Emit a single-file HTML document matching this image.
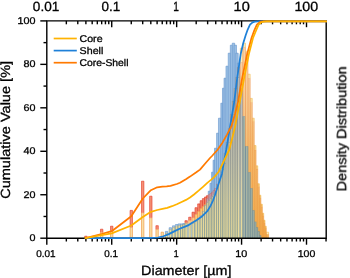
<!DOCTYPE html>
<html><head><meta charset="utf-8"><title>Particle size distribution</title>
<style>
html,body{margin:0;padding:0;background:#fff;}
body{width:350px;height:278px;overflow:hidden;position:relative;}
svg text{font-family:"Liberation Sans",sans-serif;fill:#000;stroke:#000;stroke-width:0.3px;text-rendering:geometricPrecision;}
</style></head><body>
<svg width="350" height="278" viewBox="0 0 350 278" style="position:absolute;left:0;top:0">
<rect width="350" height="278" fill="#fff"/>
<defs><linearGradient id="gf" gradientUnits="userSpaceOnUse" x1="0" y1="238" x2="0" y2="70"><stop offset="0" stop-color="#ECDC98"/><stop offset="0.2" stop-color="#E2D6A0"/><stop offset="0.45" stop-color="#CCCAB0"/><stop offset="0.7" stop-color="#BCC0BC"/><stop offset="1" stop-color="#B0BAC2"/></linearGradient><linearGradient id="gs" gradientUnits="userSpaceOnUse" x1="0" y1="238" x2="0" y2="70"><stop offset="0" stop-color="#6A8A94"/><stop offset="0.25" stop-color="#70868C"/><stop offset="0.5" stop-color="#767C7E"/><stop offset="1" stop-color="#7A6E6A"/></linearGradient><linearGradient id="gc" gradientUnits="userSpaceOnUse" x1="0" y1="238" x2="0" y2="45"><stop offset="0" stop-color="#F3B250"/><stop offset="0.45" stop-color="#F5BE70"/><stop offset="0.75" stop-color="#F8CE98"/><stop offset="1" stop-color="#F9D6AA"/></linearGradient><linearGradient id="gcs" gradientUnits="userSpaceOnUse" x1="0" y1="238" x2="0" y2="45"><stop offset="0" stop-color="#EC9038"/><stop offset="1" stop-color="#EE9A60"/></linearGradient></defs>
<g><rect x="84.69" y="236.70" width="2.40" height="1.50" fill="#FAD490"/><path d="M84.69,238.20 V236.70 H87.09 V238.20" fill="none" stroke="#F08A30" stroke-width="0.6"/><rect x="84.69" y="236.20" width="2.40" height="0.50" fill="#F38C6F"/><path d="M84.69,236.70 V236.20 H87.09 V236.70" fill="none" stroke="#E03324" stroke-width="0.6"/><rect x="100.47" y="232.20" width="2.40" height="6.00" fill="#FADEA5"/><path d="M100.47,238.20 V232.20 H102.87 V238.20" fill="none" stroke="#EF8E38" stroke-width="0.6"/><rect x="100.47" y="229.20" width="2.40" height="3.00" fill="#F49276"/><path d="M100.47,232.20 V229.20 H102.87 V232.20" fill="none" stroke="#E23424" stroke-width="0.6"/><rect x="110.52" y="230.50" width="2.40" height="7.70" fill="#FADEA5"/><path d="M110.52,238.20 V230.50 H112.92 V238.20" fill="none" stroke="#EF8E38" stroke-width="0.6"/><rect x="110.52" y="226.20" width="2.40" height="4.30" fill="#F49276"/><path d="M110.52,230.50 V226.20 H112.92 V230.50" fill="none" stroke="#E23424" stroke-width="0.6"/><rect x="130.07" y="227.20" width="2.40" height="11.00" fill="#FADEA5"/><path d="M130.07,238.20 V227.20 H132.47 V238.20" fill="none" stroke="#EF8E38" stroke-width="0.6"/><rect x="130.07" y="210.40" width="2.40" height="16.80" fill="#F49276"/><path d="M130.07,227.20 V210.40 H132.47 V227.20" fill="none" stroke="#E23424" stroke-width="0.6"/><rect x="141.50" y="212.70" width="2.40" height="25.50" fill="#FADEA5"/><path d="M141.50,238.20 V212.70 H143.90 V238.20" fill="none" stroke="#EF8E38" stroke-width="0.6"/><rect x="141.50" y="181.20" width="2.40" height="31.50" fill="#F49276"/><path d="M141.50,212.70 V181.20 H143.90 V212.70" fill="none" stroke="#E23424" stroke-width="0.6"/><rect x="149.61" y="217.70" width="2.40" height="20.50" fill="#FADEA5"/><path d="M149.61,238.20 V217.70 H152.01 V238.20" fill="none" stroke="#EF8E38" stroke-width="0.6"/><rect x="149.61" y="196.20" width="2.40" height="21.50" fill="#F49276"/><path d="M149.61,217.70 V196.20 H152.01 V217.70" fill="none" stroke="#E23424" stroke-width="0.6"/><rect x="155.91" y="229.20" width="2.40" height="9.00" fill="#FADEA5"/><path d="M155.91,238.20 V229.20 H158.31 V238.20" fill="none" stroke="#EF8E38" stroke-width="0.6"/><rect x="155.91" y="225.70" width="2.40" height="3.50" fill="#F49276"/><path d="M155.91,229.20 V225.70 H158.31 V229.20" fill="none" stroke="#E23424" stroke-width="0.6"/><rect x="161.05" y="232.20" width="2.40" height="6.00" fill="#FADEA5"/><path d="M161.05,238.20 V232.20 H163.45 V238.20" fill="none" stroke="#EF8E38" stroke-width="0.6"/><rect x="165.39" y="233.20" width="2.40" height="5.00" fill="url(#gf)"/><path d="M165.39,238.20 V233.20 H167.79 V238.20" fill="none" stroke="url(#gs)" stroke-width="0.6"/><rect x="165.39" y="232.70" width="2.40" height="0.50" fill="url(#gf)"/><path d="M165.39,233.20 V232.70 H167.79 V233.20" fill="none" stroke="url(#gs)" stroke-width="0.6"/><rect x="165.39" y="231.40" width="2.40" height="1.30" fill="#A8C8E8"/><path d="M165.39,232.70 V231.40 H167.79 V232.70" fill="none" stroke="#6496CC" stroke-width="0.6"/><rect x="169.16" y="229.20" width="2.40" height="9.00" fill="url(#gf)"/><path d="M169.16,238.20 V229.20 H171.56 V238.20" fill="none" stroke="url(#gs)" stroke-width="0.6"/><rect x="169.16" y="227.70" width="2.40" height="1.50" fill="#A8C8E8"/><path d="M169.16,229.20 V227.70 H171.56 V229.20" fill="none" stroke="#6496CC" stroke-width="0.6"/><rect x="172.48" y="227.20" width="2.40" height="11.00" fill="url(#gf)"/><path d="M172.48,238.20 V227.20 H174.88 V238.20" fill="none" stroke="url(#gs)" stroke-width="0.6"/><rect x="172.48" y="225.80" width="2.40" height="1.40" fill="#A8C8E8"/><path d="M172.48,227.20 V225.80 H174.88 V227.20" fill="none" stroke="#6496CC" stroke-width="0.6"/><rect x="175.45" y="225.70" width="2.40" height="12.50" fill="url(#gf)"/><path d="M175.45,238.20 V225.70 H177.85 V238.20" fill="none" stroke="url(#gs)" stroke-width="0.6"/><rect x="175.45" y="224.50" width="2.40" height="1.20" fill="#A8C8E8"/><path d="M175.45,225.70 V224.50 H177.85 V225.70" fill="none" stroke="#6496CC" stroke-width="0.6"/><rect x="178.14" y="225.20" width="2.40" height="13.00" fill="url(#gf)"/><path d="M178.14,238.20 V225.20 H180.54 V238.20" fill="none" stroke="url(#gs)" stroke-width="0.6"/><rect x="178.14" y="223.90" width="2.40" height="1.30" fill="#A5C6E7"/><path d="M178.14,225.20 V223.90 H180.54 V225.20" fill="none" stroke="#6496CC" stroke-width="0.6"/><rect x="180.59" y="224.70" width="2.40" height="13.50" fill="url(#gf)"/><path d="M180.59,238.20 V224.70 H182.99 V238.20" fill="none" stroke="url(#gs)" stroke-width="0.6"/><rect x="180.59" y="223.90" width="2.40" height="0.80" fill="#A3C4E6"/><path d="M180.59,224.70 V223.90 H182.99 V224.70" fill="none" stroke="#6496CC" stroke-width="0.6"/><rect x="182.85" y="224.20" width="2.40" height="14.00" fill="url(#gf)"/><path d="M182.85,238.20 V224.20 H185.25 V238.20" fill="none" stroke="url(#gs)" stroke-width="0.6"/><rect x="182.85" y="223.60" width="2.40" height="0.60" fill="#A1C3E5"/><path d="M182.85,224.20 V223.60 H185.25 V224.20" fill="none" stroke="#6496CC" stroke-width="0.6"/><rect x="184.94" y="223.40" width="2.40" height="14.80" fill="url(#gf)"/><path d="M184.94,238.20 V223.40 H187.34 V238.20" fill="none" stroke="url(#gs)" stroke-width="0.6"/><rect x="184.94" y="222.70" width="2.40" height="0.70" fill="#F9CC7F"/><path d="M184.94,223.40 V222.70 H187.34 V223.40" fill="none" stroke="#F0872A" stroke-width="0.6"/><rect x="184.94" y="220.70" width="2.40" height="2.00" fill="#F3876A"/><path d="M184.94,222.70 V220.70 H187.34 V222.70" fill="none" stroke="#DE3224" stroke-width="0.6"/><rect x="188.70" y="223.70" width="2.40" height="14.50" fill="url(#gf)"/><path d="M188.70,238.20 V223.70 H191.10 V238.20" fill="none" stroke="url(#gs)" stroke-width="0.6"/><rect x="188.70" y="220.20" width="2.40" height="3.50" fill="#FAD897"/><path d="M188.70,223.70 V220.20 H191.10 V223.70" fill="none" stroke="#EF8B33" stroke-width="0.6"/><rect x="188.70" y="217.20" width="2.40" height="3.00" fill="#F48E72"/><path d="M188.70,220.20 V217.20 H191.10 V220.20" fill="none" stroke="#E13324" stroke-width="0.6"/><rect x="192.02" y="223.20" width="2.40" height="15.00" fill="url(#gf)"/><path d="M192.02,238.20 V223.20 H194.42 V238.20" fill="none" stroke="url(#gs)" stroke-width="0.6"/><rect x="192.02" y="217.60" width="2.40" height="5.60" fill="#FAD48F"/><path d="M192.02,223.20 V217.60 H194.42 V223.20" fill="none" stroke="#F08A30" stroke-width="0.6"/><rect x="192.02" y="212.20" width="2.40" height="5.40" fill="#F38C6F"/><path d="M192.02,217.60 V212.20 H194.42 V217.60" fill="none" stroke="#E03324" stroke-width="0.6"/><rect x="194.99" y="221.20" width="2.40" height="17.00" fill="url(#gf)"/><path d="M194.99,238.20 V221.20 H197.39 V238.20" fill="none" stroke="url(#gs)" stroke-width="0.6"/><rect x="194.99" y="214.20" width="2.40" height="7.00" fill="#F9D189"/><path d="M194.99,221.20 V214.20 H197.39 V221.20" fill="none" stroke="#F0892D" stroke-width="0.6"/><rect x="194.99" y="207.70" width="2.40" height="6.50" fill="#F38A6D"/><path d="M194.99,214.20 V207.70 H197.39 V214.20" fill="none" stroke="#DF3224" stroke-width="0.6"/><rect x="197.68" y="218.20" width="2.40" height="20.00" fill="url(#gf)"/><path d="M197.68,238.20 V218.20 H200.08 V238.20" fill="none" stroke="url(#gs)" stroke-width="0.6"/><rect x="197.68" y="211.20" width="2.40" height="7.00" fill="#F9CE83"/><path d="M197.68,218.20 V211.20 H200.08 V218.20" fill="none" stroke="#F0882B" stroke-width="0.6"/><rect x="197.68" y="203.90" width="2.40" height="7.30" fill="#F3886B"/><path d="M197.68,211.20 V203.90 H200.08 V211.20" fill="none" stroke="#DE3224" stroke-width="0.6"/><rect x="200.14" y="215.20" width="2.40" height="23.00" fill="url(#gf)"/><path d="M200.14,238.20 V215.20 H202.54 V238.20" fill="none" stroke="url(#gs)" stroke-width="0.6"/><rect x="200.14" y="208.20" width="2.40" height="7.00" fill="#F9CC7F"/><path d="M200.14,215.20 V208.20 H202.54 V215.20" fill="none" stroke="#F0872A" stroke-width="0.6"/><rect x="200.14" y="200.70" width="2.40" height="7.50" fill="#F3876A"/><path d="M200.14,208.20 V200.70 H202.54 V208.20" fill="none" stroke="#DE3224" stroke-width="0.6"/><rect x="202.39" y="211.20" width="2.40" height="27.00" fill="url(#gf)"/><path d="M202.39,238.20 V211.20 H204.79 V238.20" fill="none" stroke="url(#gs)" stroke-width="0.6"/><rect x="202.39" y="206.20" width="2.40" height="5.00" fill="#F9CC7F"/><path d="M202.39,211.20 V206.20 H204.79 V211.20" fill="none" stroke="#F0872A" stroke-width="0.6"/><rect x="202.39" y="198.60" width="2.40" height="7.60" fill="#F3876A"/><path d="M202.39,206.20 V198.60 H204.79 V206.20" fill="none" stroke="#DE3224" stroke-width="0.6"/><rect x="204.48" y="205.20" width="2.40" height="33.00" fill="url(#gf)"/><path d="M204.48,238.20 V205.20 H206.88 V238.20" fill="none" stroke="url(#gs)" stroke-width="0.6"/><rect x="204.48" y="204.20" width="2.40" height="1.00" fill="#F9CC7F"/><path d="M204.48,205.20 V204.20 H206.88 V205.20" fill="none" stroke="#F0872A" stroke-width="0.6"/><rect x="204.48" y="197.00" width="2.40" height="7.20" fill="#F3876A"/><path d="M204.48,204.20 V197.00 H206.88 V204.20" fill="none" stroke="#DE3224" stroke-width="0.6"/><rect x="206.43" y="202.20" width="2.40" height="36.00" fill="url(#gf)"/><path d="M206.43,238.20 V202.20 H208.83 V238.20" fill="none" stroke="url(#gs)" stroke-width="0.6"/><rect x="206.43" y="198.20" width="2.40" height="4.00" fill="#CCA8B6"/><path d="M206.43,202.20 V198.20 H208.83 V202.20" fill="none" stroke="#A66068" stroke-width="0.6"/><rect x="206.43" y="195.70" width="2.40" height="2.50" fill="#F3876A"/><path d="M206.43,198.20 V195.70 H208.83 V198.20" fill="none" stroke="#DE3224" stroke-width="0.6"/><rect x="208.25" y="200.20" width="2.40" height="38.00" fill="url(#gf)"/><path d="M208.25,238.20 V200.20 H210.65 V238.20" fill="none" stroke="url(#gs)" stroke-width="0.6"/><rect x="208.25" y="194.20" width="2.40" height="6.00" fill="#CCA8B6"/><path d="M208.25,200.20 V194.20 H210.65 V200.20" fill="none" stroke="#A66068" stroke-width="0.6"/><rect x="208.25" y="191.20" width="2.40" height="3.00" fill="#9CC0E4"/><path d="M208.25,194.20 V191.20 H210.65 V194.20" fill="none" stroke="#6496CC" stroke-width="0.6"/><rect x="209.96" y="198.20" width="2.40" height="40.00" fill="url(#gf)"/><path d="M209.96,238.20 V198.20 H212.36 V238.20" fill="none" stroke="url(#gs)" stroke-width="0.6"/><rect x="209.96" y="193.20" width="2.40" height="5.00" fill="#CCA8B6"/><path d="M209.96,198.20 V193.20 H212.36 V198.20" fill="none" stroke="#A66068" stroke-width="0.6"/><rect x="209.96" y="183.20" width="2.40" height="10.00" fill="#9BBFE3"/><path d="M209.96,193.20 V183.20 H212.36 V193.20" fill="none" stroke="#6496CC" stroke-width="0.6"/><rect x="211.57" y="196.20" width="2.40" height="42.00" fill="url(#gf)"/><path d="M211.57,238.20 V196.20 H213.97 V238.20" fill="none" stroke="url(#gs)" stroke-width="0.6"/><rect x="211.57" y="191.70" width="2.40" height="4.50" fill="#CCA8B6"/><path d="M211.57,196.20 V191.70 H213.97 V196.20" fill="none" stroke="#A66068" stroke-width="0.6"/><rect x="211.57" y="172.20" width="2.40" height="19.50" fill="#9ABEE3"/><path d="M211.57,191.70 V172.20 H213.97 V191.70" fill="none" stroke="#6496CC" stroke-width="0.6"/><rect x="213.09" y="194.20" width="2.40" height="44.00" fill="url(#gf)"/><path d="M213.09,238.20 V194.20 H215.49 V238.20" fill="none" stroke="url(#gs)" stroke-width="0.6"/><rect x="213.09" y="190.20" width="2.40" height="4.00" fill="#CCA8B6"/><path d="M213.09,194.20 V190.20 H215.49 V194.20" fill="none" stroke="#A66068" stroke-width="0.6"/><rect x="213.09" y="160.20" width="2.40" height="30.00" fill="#9ABEE3"/><path d="M213.09,190.20 V160.20 H215.49 V190.20" fill="none" stroke="#6496CC" stroke-width="0.6"/><rect x="214.54" y="191.20" width="2.40" height="47.00" fill="url(#gf)"/><path d="M214.54,238.20 V191.20 H216.94 V238.20" fill="none" stroke="url(#gs)" stroke-width="0.6"/><rect x="214.54" y="188.20" width="2.40" height="3.00" fill="#CCA8B6"/><path d="M214.54,191.20 V188.20 H216.94 V191.20" fill="none" stroke="#A66068" stroke-width="0.6"/><rect x="214.54" y="148.20" width="2.40" height="40.00" fill="#9ABEE3"/><path d="M214.54,188.20 V148.20 H216.94 V188.20" fill="none" stroke="#6496CC" stroke-width="0.6"/><rect x="216.58" y="185.20" width="2.40" height="53.00" fill="url(#gf)"/><path d="M216.58,238.20 V185.20 H218.98 V238.20" fill="none" stroke="url(#gs)" stroke-width="0.6"/><rect x="216.58" y="184.20" width="2.40" height="1.00" fill="#CCA8B6"/><path d="M216.58,185.20 V184.20 H218.98 V185.20" fill="none" stroke="#A66068" stroke-width="0.6"/><rect x="216.58" y="133.20" width="2.40" height="51.00" fill="#9FC1E5"/><path d="M216.58,184.20 V133.20 H218.98 V184.20" fill="none" stroke="#6496CC" stroke-width="0.6"/><rect x="218.48" y="180.20" width="2.40" height="58.00" fill="url(#gf)"/><path d="M218.48,238.20 V180.20 H220.88 V238.20" fill="none" stroke="url(#gs)" stroke-width="0.6"/><rect x="218.48" y="178.20" width="2.40" height="2.00" fill="url(#gf)"/><path d="M218.48,180.20 V178.20 H220.88 V180.20" fill="none" stroke="url(#gs)" stroke-width="0.6"/><rect x="218.48" y="118.20" width="2.40" height="60.00" fill="#9FC1E5"/><path d="M218.48,178.20 V118.20 H220.88 V178.20" fill="none" stroke="#6496CC" stroke-width="0.6"/><rect x="220.83" y="174.20" width="2.40" height="64.00" fill="url(#gf)"/><path d="M220.83,238.20 V174.20 H223.23 V238.20" fill="none" stroke="url(#gs)" stroke-width="0.6"/><rect x="220.83" y="168.20" width="2.40" height="6.00" fill="url(#gf)"/><path d="M220.83,174.20 V168.20 H223.23 V174.20" fill="none" stroke="url(#gs)" stroke-width="0.6"/><rect x="220.83" y="103.20" width="2.40" height="65.00" fill="#9CBFE4"/><path d="M220.83,168.20 V103.20 H223.23 V168.20" fill="none" stroke="#6496CC" stroke-width="0.6"/><rect x="222.47" y="169.20" width="2.40" height="69.00" fill="url(#gf)"/><path d="M222.47,238.20 V169.20 H224.87 V238.20" fill="none" stroke="url(#gs)" stroke-width="0.6"/><rect x="222.47" y="161.20" width="2.40" height="8.00" fill="url(#gf)"/><path d="M222.47,169.20 V161.20 H224.87 V169.20" fill="none" stroke="url(#gs)" stroke-width="0.6"/><rect x="222.47" y="88.20" width="2.40" height="73.00" fill="#9BBEE3"/><path d="M222.47,161.20 V88.20 H224.87 V161.20" fill="none" stroke="#6496CC" stroke-width="0.6"/><rect x="224.03" y="163.20" width="2.40" height="75.00" fill="url(#gf)"/><path d="M224.03,238.20 V163.20 H226.43 V238.20" fill="none" stroke="url(#gs)" stroke-width="0.6"/><rect x="224.03" y="153.20" width="2.40" height="10.00" fill="url(#gf)"/><path d="M224.03,163.20 V153.20 H226.43 V163.20" fill="none" stroke="url(#gs)" stroke-width="0.6"/><rect x="224.03" y="78.20" width="2.40" height="75.00" fill="#9BBEE3"/><path d="M224.03,153.20 V78.20 H226.43 V153.20" fill="none" stroke="#6496CC" stroke-width="0.6"/><rect x="225.97" y="154.20" width="2.40" height="84.00" fill="url(#gf)"/><path d="M225.97,238.20 V154.20 H228.37 V238.20" fill="none" stroke="url(#gs)" stroke-width="0.6"/><rect x="225.97" y="142.20" width="2.40" height="12.00" fill="url(#gf)"/><path d="M225.97,154.20 V142.20 H228.37 V154.20" fill="none" stroke="url(#gs)" stroke-width="0.6"/><rect x="225.97" y="66.20" width="2.40" height="76.00" fill="#9FC2E5"/><path d="M225.97,142.20 V66.20 H228.37 V142.20" fill="none" stroke="#6496CC" stroke-width="0.6"/><rect x="228.23" y="142.20" width="2.40" height="96.00" fill="url(#gf)"/><path d="M228.23,238.20 V142.20 H230.63 V238.20" fill="none" stroke="url(#gs)" stroke-width="0.6"/><rect x="228.23" y="128.20" width="2.40" height="14.00" fill="url(#gf)"/><path d="M228.23,142.20 V128.20 H230.63 V142.20" fill="none" stroke="url(#gs)" stroke-width="0.6"/><rect x="228.23" y="53.20" width="2.40" height="75.00" fill="#A1C3E5"/><path d="M228.23,128.20 V53.20 H230.63 V128.20" fill="none" stroke="#6496CC" stroke-width="0.6"/><rect x="230.32" y="128.20" width="2.40" height="110.00" fill="url(#gf)"/><path d="M230.32,238.20 V128.20 H232.72 V238.20" fill="none" stroke="url(#gs)" stroke-width="0.6"/><rect x="230.32" y="114.20" width="2.40" height="14.00" fill="url(#gf)"/><path d="M230.32,128.20 V114.20 H232.72 V128.20" fill="none" stroke="url(#gs)" stroke-width="0.6"/><rect x="230.32" y="45.20" width="2.40" height="69.00" fill="#9FC2E5"/><path d="M230.32,114.20 V45.20 H232.72 V114.20" fill="none" stroke="#6496CC" stroke-width="0.6"/><rect x="232.26" y="114.20" width="2.40" height="124.00" fill="url(#gf)"/><path d="M232.26,238.20 V114.20 H234.66 V238.20" fill="none" stroke="url(#gs)" stroke-width="0.6"/><rect x="232.26" y="101.20" width="2.40" height="13.00" fill="url(#gf)"/><path d="M232.26,114.20 V101.20 H234.66 V114.20" fill="none" stroke="url(#gs)" stroke-width="0.6"/><rect x="232.26" y="43.20" width="2.40" height="58.00" fill="#9EC1E4"/><path d="M232.26,101.20 V43.20 H234.66 V101.20" fill="none" stroke="#6496CC" stroke-width="0.6"/><rect x="234.08" y="100.20" width="2.40" height="138.00" fill="url(#gf)"/><path d="M234.08,238.20 V100.20 H236.48 V238.20" fill="none" stroke="url(#gs)" stroke-width="0.6"/><rect x="234.08" y="88.20" width="2.40" height="12.00" fill="url(#gf)"/><path d="M234.08,100.20 V88.20 H236.48 V100.20" fill="none" stroke="url(#gs)" stroke-width="0.6"/><rect x="234.08" y="45.20" width="2.40" height="43.00" fill="#9CC0E4"/><path d="M234.08,88.20 V45.20 H236.48 V88.20" fill="none" stroke="#6496CC" stroke-width="0.6"/><rect x="235.79" y="88.20" width="2.40" height="150.00" fill="url(#gf)"/><path d="M235.79,238.20 V88.20 H238.19 V238.20" fill="none" stroke="url(#gs)" stroke-width="0.6"/><rect x="235.79" y="77.20" width="2.40" height="11.00" fill="url(#gf)"/><path d="M235.79,88.20 V77.20 H238.19 V88.20" fill="none" stroke="url(#gs)" stroke-width="0.6"/><rect x="235.79" y="53.20" width="2.40" height="24.00" fill="#9BBFE3"/><path d="M235.79,77.20 V53.20 H238.19 V77.20" fill="none" stroke="#6496CC" stroke-width="0.6"/><rect x="237.40" y="77.20" width="2.40" height="161.00" fill="url(#gf)"/><path d="M237.40,238.20 V77.20 H239.80 V238.20" fill="none" stroke="url(#gs)" stroke-width="0.6"/><rect x="237.40" y="67.20" width="2.40" height="10.00" fill="url(#gf)"/><path d="M237.40,77.20 V67.20 H239.80 V77.20" fill="none" stroke="url(#gs)" stroke-width="0.6"/><rect x="237.40" y="63.20" width="2.40" height="4.00" fill="#9BBFE3"/><path d="M237.40,67.20 V63.20 H239.80 V67.20" fill="none" stroke="#6496CC" stroke-width="0.6"/><rect x="240.38" y="88.20" width="2.40" height="150.00" fill="url(#gf)"/><path d="M240.38,238.20 V88.20 H242.77 V238.20" fill="none" stroke="url(#gs)" stroke-width="0.6"/><rect x="240.38" y="62.20" width="2.40" height="26.00" fill="url(#gc)"/><path d="M240.38,88.20 V62.20 H242.77 V88.20" fill="none" stroke="url(#gcs)" stroke-width="0.6"/><rect x="240.38" y="48.20" width="2.40" height="14.00" fill="#FCEEBE"/><path d="M240.38,62.20 V48.20 H242.77 V62.20" fill="none" stroke="#F2BE5A" stroke-width="0.6"/><rect x="243.06" y="116.20" width="2.40" height="122.00" fill="#A9B5A5"/><path d="M243.06,238.20 V116.20 H245.46 V238.20" fill="none" stroke="#607F90" stroke-width="0.6"/><rect x="243.06" y="47.20" width="2.40" height="69.00" fill="url(#gc)"/><path d="M243.06,116.20 V47.20 H245.46 V116.20" fill="none" stroke="url(#gcs)" stroke-width="0.6"/><rect x="243.06" y="43.20" width="2.40" height="4.00" fill="#FCEEBE"/><path d="M243.06,47.20 V43.20 H245.46 V47.20" fill="none" stroke="#F2BE5A" stroke-width="0.6"/><rect x="266.21" y="234.20" width="2.40" height="4.00" fill="url(#gc)"/><path d="M266.21,238.20 V234.20 H268.61 V238.20" fill="none" stroke="url(#gcs)" stroke-width="0.6"/><rect x="266.21" y="232.20" width="2.40" height="2.00" fill="#FCEEBE"/><path d="M266.21,234.20 V232.20 H268.61 V234.20" fill="none" stroke="#F2BE5A" stroke-width="0.6"/><rect x="263.86" y="228.20" width="2.40" height="10.00" fill="url(#gc)"/><path d="M263.86,238.20 V228.20 H266.26 V238.20" fill="none" stroke="url(#gcs)" stroke-width="0.6"/><rect x="263.86" y="226.20" width="2.40" height="2.00" fill="#F5BE5F"/><path d="M263.86,228.20 V226.20 H266.26 V228.20" fill="none" stroke="#F2BE5A" stroke-width="0.6"/><rect x="262.61" y="222.70" width="2.40" height="15.50" fill="url(#gc)"/><path d="M262.61,238.20 V222.70 H265.01 V238.20" fill="none" stroke="url(#gcs)" stroke-width="0.6"/><rect x="262.61" y="220.20" width="2.40" height="2.50" fill="#F5BE5F"/><path d="M262.61,222.70 V220.20 H265.01 V222.70" fill="none" stroke="#F2BE5A" stroke-width="0.6"/><rect x="261.30" y="215.70" width="2.40" height="22.50" fill="url(#gc)"/><path d="M261.30,238.20 V215.70 H263.70 V238.20" fill="none" stroke="url(#gcs)" stroke-width="0.6"/><rect x="261.30" y="213.20" width="2.40" height="2.50" fill="#F5BE5F"/><path d="M261.30,215.70 V213.20 H263.70 V215.70" fill="none" stroke="#F2BE5A" stroke-width="0.6"/><rect x="259.92" y="206.70" width="2.40" height="31.50" fill="url(#gc)"/><path d="M259.92,238.20 V206.70 H262.32 V238.20" fill="none" stroke="url(#gcs)" stroke-width="0.6"/><rect x="259.92" y="204.20" width="2.40" height="2.50" fill="#F5BE5F"/><path d="M259.92,206.70 V204.20 H262.32 V206.70" fill="none" stroke="#F2BE5A" stroke-width="0.6"/><rect x="258.47" y="235.20" width="2.40" height="3.00" fill="#A3B1A6"/><path d="M258.47,238.20 V235.20 H260.87 V238.20" fill="none" stroke="#5E7D8F" stroke-width="0.6"/><rect x="258.47" y="197.70" width="2.40" height="37.50" fill="url(#gc)"/><path d="M258.47,235.20 V197.70 H260.87 V235.20" fill="none" stroke="url(#gcs)" stroke-width="0.6"/><rect x="258.47" y="195.20" width="2.40" height="2.50" fill="#F5C165"/><path d="M258.47,197.70 V195.20 H260.87 V197.70" fill="none" stroke="#F2BE5A" stroke-width="0.6"/><rect x="256.95" y="231.20" width="2.40" height="7.00" fill="#A9B5A5"/><path d="M256.95,238.20 V231.20 H259.35 V238.20" fill="none" stroke="#607F90" stroke-width="0.6"/><rect x="256.95" y="186.60" width="2.40" height="44.60" fill="url(#gc)"/><path d="M256.95,231.20 V186.60 H259.35 V231.20" fill="none" stroke="url(#gcs)" stroke-width="0.6"/><rect x="256.95" y="183.70" width="2.40" height="2.90" fill="#F6C770"/><path d="M256.95,186.60 V183.70 H259.35 V186.60" fill="none" stroke="#F2BE5A" stroke-width="0.6"/><rect x="255.34" y="227.20" width="2.40" height="11.00" fill="#A9B5A5"/><path d="M255.34,238.20 V227.20 H257.74 V238.20" fill="none" stroke="#607F90" stroke-width="0.6"/><rect x="255.34" y="168.90" width="2.40" height="58.30" fill="url(#gc)"/><path d="M255.34,227.20 V168.90 H257.74 V227.20" fill="none" stroke="url(#gcs)" stroke-width="0.6"/><rect x="255.34" y="165.80" width="2.40" height="3.10" fill="#F7CD7C"/><path d="M255.34,168.90 V165.80 H257.74 V168.90" fill="none" stroke="#F2BE5A" stroke-width="0.6"/><rect x="253.63" y="221.60" width="2.40" height="16.60" fill="#A9B5A5"/><path d="M253.63,238.20 V221.60 H256.03 V238.20" fill="none" stroke="#607F90" stroke-width="0.6"/><rect x="253.63" y="149.80" width="2.40" height="71.80" fill="url(#gc)"/><path d="M253.63,221.60 V149.80 H256.03 V221.60" fill="none" stroke="url(#gcs)" stroke-width="0.6"/><rect x="253.63" y="145.50" width="2.40" height="4.30" fill="#F8D389"/><path d="M253.63,149.80 V145.50 H256.03 V149.80" fill="none" stroke="#F2BE5A" stroke-width="0.6"/><rect x="251.81" y="210.20" width="2.40" height="28.00" fill="#A9B5A5"/><path d="M251.81,238.20 V210.20 H254.21 V238.20" fill="none" stroke="#607F90" stroke-width="0.6"/><rect x="251.81" y="121.40" width="2.40" height="88.80" fill="url(#gc)"/><path d="M251.81,210.20 V121.40 H254.21 V210.20" fill="none" stroke="url(#gcs)" stroke-width="0.6"/><rect x="251.81" y="118.20" width="2.40" height="3.20" fill="#F9DB98"/><path d="M251.81,121.40 V118.20 H254.21 V121.40" fill="none" stroke="#F2BE5A" stroke-width="0.6"/><rect x="249.86" y="188.20" width="2.40" height="50.00" fill="#A9B5A5"/><path d="M249.86,238.20 V188.20 H252.26 V238.20" fill="none" stroke="#607F90" stroke-width="0.6"/><rect x="249.86" y="102.40" width="2.40" height="85.80" fill="url(#gc)"/><path d="M249.86,188.20 V102.40 H252.26 V188.20" fill="none" stroke="url(#gcs)" stroke-width="0.6"/><rect x="249.86" y="98.40" width="2.40" height="4.00" fill="#FAE3A9"/><path d="M249.86,102.40 V98.40 H252.26 V102.40" fill="none" stroke="#F2BE5A" stroke-width="0.6"/><rect x="247.77" y="172.20" width="2.40" height="66.00" fill="#A9B5A5"/><path d="M247.77,238.20 V172.20 H250.17 V238.20" fill="none" stroke="#607F90" stroke-width="0.6"/><rect x="247.77" y="78.20" width="2.40" height="94.00" fill="url(#gc)"/><path d="M247.77,172.20 V78.20 H250.17 V172.20" fill="none" stroke="url(#gcs)" stroke-width="0.6"/><rect x="247.77" y="74.20" width="2.40" height="4.00" fill="#FCEDBD"/><path d="M247.77,78.20 V74.20 H250.17 V78.20" fill="none" stroke="#F2BE5A" stroke-width="0.6"/><rect x="245.52" y="146.20" width="2.40" height="92.00" fill="#A9B5A5"/><path d="M245.52,238.20 V146.20 H247.92 V238.20" fill="none" stroke="#607F90" stroke-width="0.6"/><rect x="245.52" y="52.20" width="2.40" height="94.00" fill="url(#gc)"/><path d="M245.52,146.20 V52.20 H247.92 V146.20" fill="none" stroke="url(#gcs)" stroke-width="0.6"/><rect x="245.52" y="51.20" width="2.40" height="1.00" fill="#FCEEBE"/><path d="M245.52,52.20 V51.20 H247.92 V52.20" fill="none" stroke="#F2BE5A" stroke-width="0.6"/></g>
<g stroke="#000" stroke-width="1.4" fill="none">
<path d="M46.8,20.9 H326.2 V238.2 H46.8 Z" stroke-linejoin="miter"/>
<path d="M40.30,238.20 H46.8"/>
<path d="M43.50,216.47 H46.8"/>
<path d="M40.30,194.74 H46.8"/>
<path d="M43.50,173.01 H46.8"/>
<path d="M40.30,151.28 H46.8"/>
<path d="M43.50,129.55 H46.8"/>
<path d="M40.30,107.82 H46.8"/>
<path d="M43.50,86.09 H46.8"/>
<path d="M40.30,64.36 H46.8"/>
<path d="M43.50,42.63 H46.8"/>
<path d="M40.30,20.90 H46.8"/>
<path d="M46.80,238.2 V244.70"/>
<path d="M66.34,238.2 V241.50"/>
<path d="M66.34,20.9 V24.30"/>
<path d="M77.78,238.2 V241.50"/>
<path d="M77.78,20.9 V24.30"/>
<path d="M85.89,238.2 V241.50"/>
<path d="M85.89,20.9 V24.30"/>
<path d="M92.18,238.2 V241.50"/>
<path d="M92.18,20.9 V24.30"/>
<path d="M97.32,238.2 V241.50"/>
<path d="M97.32,20.9 V24.30"/>
<path d="M101.67,238.2 V241.50"/>
<path d="M101.67,20.9 V24.30"/>
<path d="M105.43,238.2 V241.50"/>
<path d="M105.43,20.9 V24.30"/>
<path d="M108.75,238.2 V241.50"/>
<path d="M108.75,20.9 V24.30"/>
<path d="M111.72,238.2 V244.70"/>
<path d="M111.72,20.9 V27.20"/>
<path d="M131.27,238.2 V241.50"/>
<path d="M131.27,20.9 V24.30"/>
<path d="M142.70,238.2 V241.50"/>
<path d="M142.70,20.9 V24.30"/>
<path d="M150.81,238.2 V241.50"/>
<path d="M150.81,20.9 V24.30"/>
<path d="M157.11,238.2 V241.50"/>
<path d="M157.11,20.9 V24.30"/>
<path d="M162.25,238.2 V241.50"/>
<path d="M162.25,20.9 V24.30"/>
<path d="M166.59,238.2 V241.50"/>
<path d="M166.59,20.9 V24.30"/>
<path d="M170.36,238.2 V241.50"/>
<path d="M170.36,20.9 V24.30"/>
<path d="M173.68,238.2 V241.50"/>
<path d="M173.68,20.9 V24.30"/>
<path d="M176.65,238.2 V244.70"/>
<path d="M176.65,20.9 V27.20"/>
<path d="M196.19,238.2 V241.50"/>
<path d="M196.19,20.9 V24.30"/>
<path d="M207.63,238.2 V241.50"/>
<path d="M207.63,20.9 V24.30"/>
<path d="M215.74,238.2 V241.50"/>
<path d="M215.74,20.9 V24.30"/>
<path d="M222.03,238.2 V241.50"/>
<path d="M222.03,20.9 V24.30"/>
<path d="M227.17,238.2 V241.50"/>
<path d="M227.17,20.9 V24.30"/>
<path d="M231.52,238.2 V241.50"/>
<path d="M231.52,20.9 V24.30"/>
<path d="M235.28,238.2 V241.50"/>
<path d="M235.28,20.9 V24.30"/>
<path d="M238.60,238.2 V241.50"/>
<path d="M238.60,20.9 V24.30"/>
<path d="M241.57,238.2 V244.70"/>
<path d="M241.57,20.9 V27.20"/>
<path d="M261.12,238.2 V241.50"/>
<path d="M261.12,20.9 V24.30"/>
<path d="M272.55,238.2 V241.50"/>
<path d="M272.55,20.9 V24.30"/>
<path d="M280.66,238.2 V241.50"/>
<path d="M280.66,20.9 V24.30"/>
<path d="M286.96,238.2 V241.50"/>
<path d="M286.96,20.9 V24.30"/>
<path d="M292.10,238.2 V241.50"/>
<path d="M292.10,20.9 V24.30"/>
<path d="M296.44,238.2 V241.50"/>
<path d="M296.44,20.9 V24.30"/>
<path d="M300.21,238.2 V241.50"/>
<path d="M300.21,20.9 V24.30"/>
<path d="M303.53,238.2 V241.50"/>
<path d="M303.53,20.9 V24.30"/>
<path d="M306.50,238.2 V244.70"/>
<path d="M306.50,20.9 V27.20"/>
<path d="M326.04,238.2 V241.50"/>
</g>
<path d="M85.5,238.2 L140.0,238.1 L150.0,237.9 L158.0,237.5 L163.4,236.3 L168.8,234.1 L174.2,231.4 L179.6,228.7 L185.0,226.6 L188.0,225.4 L191.4,223.2 L196.8,220.0 L202.2,216.2 L207.6,210.8 L210.8,205.4 L213.0,200.5 L215.0,195.0 L216.6,190.0 L219.5,181.0 L221.9,174.0 L223.9,162.0 L226.2,150.0 L230.2,126.0 L234.2,102.0 L237.2,78.0 L240.7,54.0 L243.3,43.0 L245.6,35.5 L247.6,29.8 L250.0,24.7 L252.6,22.3 L254.8,21.6 L258.0,21.4 L326.2,21.4" fill="none" stroke="#1E80D8" stroke-width="1.75" stroke-linejoin="round" stroke-linecap="round"/>
<path d="M85.5,238.0 L101.5,234.0 L111.7,231.2 L131.3,216.3 L142.8,198.5 L150.9,190.2 L157.2,187.3 L162.4,186.7 L166.7,186.3 L170.5,185.8 L176.8,184.0 L180.0,182.8 L186.3,179.0 L190.0,176.6 L196.3,172.3 L200.0,169.6 L205.0,163.8 L210.0,158.0 L212.0,156.0 L217.4,150.0 L222.6,142.4 L227.0,134.6 L231.5,126.0 L235.0,114.0 L238.0,102.0 L242.2,78.0 L247.2,54.0 L251.5,38.0 L254.3,30.4 L256.9,24.7 L259.5,22.4 L261.5,21.6 L265.0,21.4 L326.2,21.4" fill="none" stroke="#FF7A00" stroke-width="1.75" stroke-linejoin="round" stroke-linecap="round"/>
<path d="M85.5,238.1 L101.5,235.2 L111.7,233.4 L131.3,225.5 L142.8,217.0 L150.9,211.8 L157.2,210.0 L162.4,208.9 L167.2,207.8 L172.0,206.2 L176.8,204.3 L181.6,202.0 L186.0,199.9 L190.0,197.5 L194.0,194.5 L198.6,190.7 L203.0,186.8 L207.3,182.9 L211.0,179.9 L214.4,176.9 L218.5,172.0 L223.4,162.0 L229.2,150.0 L232.3,138.0 L235.2,126.0 L239.8,102.0 L244.1,78.0 L248.9,54.0 L253.0,38.0 L256.3,30.0 L258.5,24.8 L261.0,22.5 L263.5,21.6 L267.0,21.4 L326.2,21.4" fill="none" stroke="#FFB300" stroke-width="1.75" stroke-linejoin="round" stroke-linecap="round"/>
<g opacity="0.999">
<path d="M53.7,38.5 H76.8" stroke="#FFB300" stroke-width="1.7"/>
<text transform="translate(79.57,42.00) scale(1.0819,1)" font-size="9.8">Core</text>
<path d="M53.7,50.6 H76.8" stroke="#1E80D8" stroke-width="1.7"/>
<text transform="translate(79.62,54.10) scale(1.0868,1)" font-size="9.8">Shell</text>
<path d="M53.7,62.7 H76.8" stroke="#FF7A00" stroke-width="1.7"/>
<text transform="translate(79.58,66.30) scale(1.0564,1)" font-size="9.8">Core-Shell</text>
<text transform="translate(29.42,241.20) scale(1.1000,1)" font-size="9.8">0</text>
<text transform="translate(23.44,197.74) scale(1.1000,1)" font-size="9.8">20</text>
<text transform="translate(23.44,154.28) scale(1.1000,1)" font-size="9.8">40</text>
<text transform="translate(23.44,110.82) scale(1.1000,1)" font-size="9.8">60</text>
<text transform="translate(23.44,67.36) scale(1.1000,1)" font-size="9.8">80</text>
<text transform="translate(17.43,23.90) scale(1.1000,1)" font-size="9.8">100</text>
<text transform="translate(36.20,257.30) scale(1.0163,1)" font-size="9.8">0.01</text>
<text transform="translate(104.31,257.30) scale(1.0028,1)" font-size="9.8">0.1</text>
<text transform="translate(173.64,257.30) scale(0.8965,1)" font-size="9.8">1</text>
<text transform="translate(235.29,257.30) scale(1.1048,1)" font-size="9.8">10</text>
<text transform="translate(297.71,257.30) scale(1.0762,1)" font-size="9.8">100</text>
<text transform="translate(32.86,10.80) scale(1.0200,1)" font-size="13.3">0.01</text>
<text transform="translate(101.56,10.80) scale(1.0102,1)" font-size="13.3">0.1</text>
<text transform="translate(173.14,10.80) scale(0.7649,1)" font-size="13.3">1</text>
<text transform="translate(233.61,10.80) scale(1.0930,1)" font-size="13.3">10</text>
<text transform="translate(294.43,10.80) scale(1.0686,1)" font-size="13.3">100</text>
<text transform="translate(141.12,274.60) scale(1.0775,1)" font-size="13.3">Diameter [µm]</text>
<text transform="translate(10.40,198.83) rotate(-90) scale(1.0935,1)" font-size="13.3">Cumulative Value [%]</text>
<text transform="translate(346.20,191.40) rotate(-90) scale(1.0916,1)" font-size="13.3">Density Distribution</text>
</g>
</svg>
</body></html>
